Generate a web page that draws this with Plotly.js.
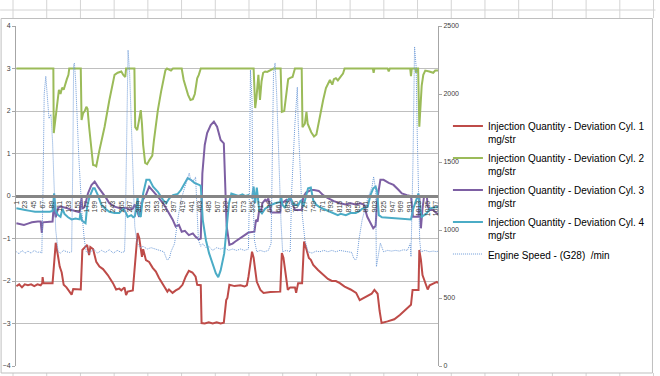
<!DOCTYPE html>
<html><head><meta charset="utf-8">
<script src="https://cdn.plot.ly/plotly-3.0.1.min.js"></script>
<style>html,body{margin:0;padding:0;background:#fff}#chart{width:660px;height:376px}</style>
</head><body><div id="chart"></div>
<script>
// category tick labels (every 22nd sample)
const tickLabels = [];
for (let v = 1; v <= 1057; v += 22) tickLabels.push(v);

// Injection Quantity - Deviation Cyl. 1 (sample index, mg/str)
const cyl1X = [1,8,15,22,30,38,46,54,62,66,67,69,92,98,100,106,110,115,120,127,135,140,144,163,167,173,179,184,187,194,202,210,219,231,244,252,260,265,273,277,281,294,306,310,317,320,327,335,344,352,360,373,381,385,394,402,410,419,427,435,444,452,456,465,467,475,485,495,505,515,523,529,532,537,550,565,575,581,585,594,598,602,606,615,623,640,665,669,673,679,684,690,702,705,710,720,725,731,737,742,748,760,773,785,795,805,815,827,842,856,865,875,885,895,902,910,915,920,935,952,966,981,994,998,1013,1015,1019,1023,1031,1036,1041,1052,1059,1062];
const cyl1Y = [-2.12,-2.08,-2.15,-2.08,-2.1,-2.08,-2.12,-2.08,-2.1,-2.05,-1.91,-2.05,-2.05,-1.15,-1.1,-1.43,-1.66,-1.8,-2.09,-2.15,-2.25,-2.32,-2.19,-2.2,-1.27,-1.2,-1.15,-1.39,-1.2,-1.25,-1.55,-1.66,-1.72,-1.86,-2.05,-2.2,-2.18,-2.22,-2.15,-2.33,-2.25,-2.22,-0.87,-0.98,-1.43,-1.25,-1.51,-1.55,-1.69,-1.78,-1.93,-2.13,-2.25,-2.2,-2.28,-2.22,-2.18,-2.09,-1.9,-1.76,-1.8,-1.9,-2.09,-2.1,-2.99,-3.0,-2.97,-3.0,-2.97,-3.0,-2.98,-2.45,-2.4,-2.09,-2.12,-2.1,-2.13,-2.1,-1.9,-1.31,-1.45,-1.74,-2.02,-2.21,-2.28,-2.26,-2.25,-1.34,-1.45,-1.86,-2.21,-2.15,-2.15,-2.28,-2.05,-2.05,-1.07,-1.26,-1.46,-1.5,-1.62,-1.74,-1.86,-1.95,-2.0,-2.0,-2.05,-2.13,-2.2,-2.28,-2.45,-2.4,-2.36,-2.3,-2.21,-2.3,-2.7,-2.99,-2.95,-2.9,-2.8,-2.68,-2.56,-2.21,-2.21,-1.27,-1.5,-1.86,-2.1,-2.2,-2.1,-2.05,-2.02,-2.05];

// Cyl. 2
const cyl2X = [1,94,95,102,108,112,116,120,124,128,132,134,163,165,169,173,177,180,184,190,194,199,202,210,223,235,248,256,265,270,275,277,298,300,305,309,314,317,320,325,330,336,343,347,352,357,365,370,376,380,390,395,417,422,433,439,445,450,456,460,465,598,602,605,610,614,618,622,627,632,637,648,666,669,675,680,685,690,696,702,719,721,727,731,734,743,750,756,765,773,780,790,796,800,805,810,818,823,827,898,900,902,935,938,941,992,994,996,1005,1007,1008,1012,1015,1018,1021,1025,1030,1040,1050,1055,1062];
const cyl2Y = [3.0,3.0,1.48,2.1,2.5,2.4,2.55,2.5,2.65,2.75,2.85,3.0,3.0,1.79,1.95,2.0,2.1,2.05,1.63,1.16,0.73,0.72,0.7,1.08,1.63,2.26,2.85,2.9,2.93,2.85,2.8,3.0,3.0,1.62,1.55,1.75,2.02,1.7,1.2,0.78,0.75,0.85,0.95,1.3,1.7,2.02,2.45,2.65,2.96,3.0,2.95,3.0,3.0,2.73,2.38,2.26,2.28,2.4,2.77,2.85,3.0,3.0,2.07,2.3,2.85,2.26,2.7,2.9,2.93,2.92,2.95,3.0,3.0,1.98,2.0,2.42,2.75,2.78,2.8,3.0,3.0,1.62,1.7,1.98,1.7,1.5,1.4,1.45,1.9,2.26,2.54,2.73,2.62,2.75,2.77,2.72,2.82,2.88,3.0,3.0,2.9,3.0,3.0,2.93,3.0,3.0,2.82,3.0,3.0,2.9,3.0,3.0,1.63,2.2,2.6,2.85,2.95,2.93,2.9,2.95,2.95];

// Cyl. 3
const cyl3X = [1,10,20,30,40,55,62,65,67,92,95,100,106,112,127,140,152,160,165,167,173,181,190,198,206,219,227,235,248,260,277,285,294,299,304,310,319,327,335,345,360,373,385,394,402,410,417,425,435,445,452,460,465,469,475,481,490,498,506,515,523,527,530,537,545,552,560,569,578,585,600,604,608,612,616,620,627,630,635,642,665,667,672,681,685,690,702,719,723,730,742,750,762,773,785,800,815,830,842,855,867,875,884,892,899,905,909,917,925,938,950,963,971,984,994,999,1013,1015,1019,1023,1027,1034,1036,1042,1050,1059,1062];
const cyl3Y = [-0.64,-0.66,-0.68,-0.65,-0.62,-0.6,-0.6,-0.87,-0.62,-0.6,-0.21,-0.5,-0.28,-0.25,-0.28,-0.33,-0.36,-0.38,-0.05,-0.3,-0.25,0.06,0.26,0.34,0.22,0.06,-0.05,-0.17,-0.25,-0.28,-0.28,-0.32,-0.3,-0.2,-0.33,-0.49,-0.09,0.02,0.22,0.12,-0.05,-0.21,-0.4,-0.55,-0.72,-0.68,-0.84,-0.82,-0.92,-0.88,-0.96,-1.02,-1.0,0.53,1.2,1.48,1.67,1.75,1.63,1.32,1.24,0.14,-0.7,-1.15,-1.12,-1.07,-1.02,-0.96,-0.92,-0.86,-0.84,-0.56,-0.6,-0.33,-0.38,-0.17,-0.09,-0.12,-0.06,-0.39,-0.39,-0.13,-0.15,-0.09,-0.12,-0.05,-0.33,-0.33,-0.02,0.08,0.14,0.14,0.12,0.02,-0.05,-0.12,-0.17,-0.2,-0.17,-0.2,-0.17,-0.2,-0.49,-0.64,-0.76,-0.7,-0.09,0.38,0.38,0.31,0.26,0.14,0.06,0.02,0.0,-0.49,-0.49,0.0,-0.76,-0.3,0.0,0.0,-0.25,-0.33,-0.33,-0.41,-0.43];

// Cyl. 4
const cyl4X = [1,10,23,35,48,60,85,92,96,100,106,112,117,122,131,140,150,160,162,166,175,179,185,194,198,206,215,225,235,248,260,270,277,281,290,295,299,303,306,309,314,320,328,336,345,357,370,378,386,395,407,415,424,432,440,449,461,465,470,478,486,495,503,509,515,524,530,536,542,552,560,570,577,585,594,598,602,606,612,619,627,635,640,652,665,667,670,677,684,690,698,710,717,723,729,735,742,748,755,762,773,785,800,810,817,830,842,855,865,871,885,892,899,905,909,913,921,950,975,994,1000,1007,1013,1015,1021,1027,1034,1042,1050,1059,1062];
const cyl4Y = [-0.29,-0.3,-0.33,-0.35,-0.37,-0.37,-0.37,-0.35,0.06,-0.35,-0.45,-0.49,-0.3,-0.42,-0.5,-0.55,-0.53,-0.55,-0.4,-0.58,-0.64,-0.25,-0.02,0.18,0.18,0.02,-0.21,-0.3,-0.37,-0.4,-0.4,-0.3,-0.4,-0.49,-0.45,-0.5,-0.48,-0.3,-0.02,-0.45,-0.49,0.06,0.38,0.38,0.22,0.1,-0.09,-0.17,-0.05,0.02,0.05,0.14,0.3,0.42,0.38,0.31,0.26,0.24,-0.56,-1.04,-1.35,-1.58,-1.82,-1.91,-1.75,-1.35,-0.72,-0.17,0.06,0.02,0.0,0.04,0.0,0.02,-0.04,0.22,-0.17,0.2,-0.33,-0.41,-0.3,-0.25,-0.22,-0.17,-0.14,0.02,-0.2,-0.28,-0.1,-0.02,-0.2,-0.22,-0.1,-0.25,-0.05,0.18,0.2,-0.1,-0.2,-0.25,-0.3,-0.35,-0.4,-0.45,-0.42,-0.45,-0.4,-0.4,-0.35,-0.3,-0.25,0.02,0.18,0.22,0.1,-0.45,-0.5,-0.52,-0.53,-0.55,-0.29,-0.1,0.06,-0.2,-0.49,-0.45,-0.4,-0.29,-0.27,-0.26,-0.27];

// Engine Speed (G28) /min, secondary axis
const rpmX = [1,8,15,23,30,38,46,54,60,65,68,71,75,79,83,88,92,95,100,106,112,120,127,135,140,143,145,147,150,158,166,172,177,185,195,205,215,225,235,245,255,265,273,275,279,282,286,290,295,299,305,312,320,330,340,350,360,372,380,386,390,399,407,415,428,436,440,449,452,455,459,465,470,478,485,495,505,515,525,535,545,555,565,575,585,587,590,594,596,600,606,615,625,635,642,648,652,656,659,667,671,680,690,694,702,706,708,710,715,720,727,735,745,755,765,775,785,795,805,815,825,835,845,850,855,858,863,871,884,896,900,905,907,911,917,925,935,945,955,965,975,985,992,994,999,1003,1007,1010,1013,1016,1019,1030,1040,1050,1059,1062];
const rpmY = [840,825,850,830,845,830,850,835,840,830,1300,2000,2130,1950,1820,1850,1650,1400,1000,840,830,850,840,835,840,1500,2213,2228,2103,1540,1123,926,840,830,860,830,850,835,855,830,850,835,840,1000,1660,2323,2150,1785,1368,1024,904,870,880,860,870,860,850,840,780,790,840,900,1073,1220,1345,1419,1360,1368,1390,1200,926,880,900,870,880,850,870,860,870,850,860,850,860,850,860,1200,2176,1956,1316,926,840,850,840,850,900,2150,2228,2000,1700,1051,840,850,840,1300,1785,2030,2050,1800,1466,1123,926,840,830,845,840,850,840,850,840,850,845,840,835,790,780,800,926,1073,1220,1318,1392,1300,730,800,904,840,850,845,850,845,855,850,900,804,1500,2348,2200,1662,1171,920,840,850,840,845,840,845];

const seriesNames = [
  'Injection Quantity - Deviation Cyl. 1<br>mg/str',
  'Injection Quantity - Deviation Cyl. 2<br>mg/str',
  'Injection Quantity - Deviation Cyl. 3<br>mg/str',
  'Injection Quantity - Deviation Cyl. 4<br>mg/str',
  'Engine Speed - (G28) \u00a0/min'
];
const colors = ['#BE4B48','#9BBB59','#7D5FA3','#4BACC6','#6E9BD8'];

const traces = [
  {x: cyl1X, y: cyl1Y}, {x: cyl2X, y: cyl2Y}, {x: cyl3X, y: cyl3Y}, {x: cyl4X, y: cyl4Y}
].map((t, k) => ({
  x: t.x, y: t.y, type: 'scatter', mode: 'lines', name: seriesNames[k],
  line: {color: colors[k], width: 2}, legendgroup: 'g' + k, hoverinfo: 'skip'
}));
traces.push({
  x: rpmX, y: rpmY, type: 'scatter', mode: 'lines', name: seriesNames[4], yaxis: 'y2',
  line: {color: colors[4], width: 1, dash: '1px,1px'}, legendgroup: 'g4', hoverinfo: 'skip'
});

// spreadsheet background decoration (paper coordinates)
const L = 16, R = 441, T = 26, B = 366;
const px = v => (v - L) / (R - L);
const py = v => (B - v) / (B - T);
const shapes = [];
for (let k = 0; k < 20; k++) {
  const cx = 13 + 33.95 * k;
  shapes.push({type: 'line', xref: 'paper', yref: 'paper', x0: px(cx), x1: px(cx), y0: py(0), y1: py(18), line: {color: '#D4D4D4', width: 1}, layer: 'below'});
  shapes.push({type: 'line', xref: 'paper', yref: 'paper', x0: px(cx), x1: px(cx), y0: py(373), y1: py(376), line: {color: '#D4D4D4', width: 1}, layer: 'below'});
}
shapes.push({type: 'line', xref: 'paper', yref: 'paper', x0: px(0), x1: px(660), y0: py(10), y1: py(10), line: {color: '#D4D4D4', width: 1}, layer: 'below'});
shapes.push({type: 'rect', xref: 'paper', yref: 'paper', x0: px(1), x1: px(657), y0: py(18.5), y1: py(373), line: {color: '#BFBFBF', width: 1}, fillcolor: 'rgba(0,0,0,0)', layer: 'below'});

const tickFont = {family: 'Liberation Sans, Arial, sans-serif', size: 7, color: '#404040'};
const layout = {
  width: 660, height: 376,
  margin: {l: L, r: 660 - R, t: T, b: 376 - B, pad: 0},
  paper_bgcolor: '#ffffff', plot_bgcolor: '#ffffff',
  showlegend: true,
  xaxis: {
    type: 'linear', range: [0, 1062], anchor: 'free', position: 0.5,
    tickmode: 'array', tickvals: tickLabels, ticktext: tickLabels.map(String),
    tickangle: -90, tickfont: tickFont, ticks: '', showgrid: false, zeroline: false,
    showline: true, linecolor: '#858585', linewidth: 3
  },
  yaxis: {
    range: [-4, 4], dtick: 1, tickfont: tickFont, showgrid: true, gridcolor: '#BFBFBF', gridwidth: 1,
    zeroline: false, showline: true, linecolor: '#A6A6A6', ticks: 'outside', ticklen: 3, tickcolor: '#A6A6A6'
  },
  yaxis2: {
    range: [0, 2500], dtick: 500, overlaying: 'y', side: 'right', tickfont: tickFont, showgrid: false,
    zeroline: false, showline: true, linecolor: '#A6A6A6', ticks: 'outside', ticklen: 3, tickcolor: '#A6A6A6'
  },
  legend: {
    x: px(451), y: py(113), xanchor: 'left', yanchor: 'top', valign: 'top',
    font: {family: 'Liberation Sans, Arial, sans-serif', size: 10, color: '#000'},
    bgcolor: 'rgba(0,0,0,0)', tracegroupgap: 3, itemwidth: 30
  },
  shapes: shapes
};
Plotly.newPlot('chart', traces, layout, {displayModeBar: false, staticPlot: true});
</script></body></html>
